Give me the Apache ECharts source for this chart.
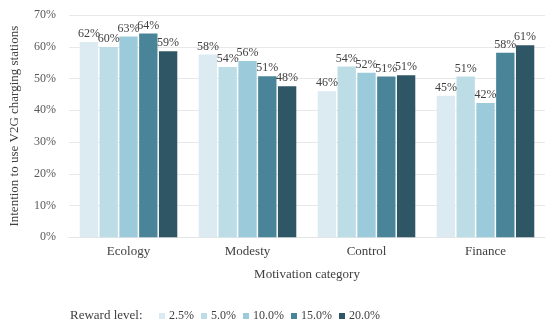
<!DOCTYPE html>
<html>
<head>
<meta charset="utf-8">
<script src="https://cdn.jsdelivr.net/npm/echarts@6/dist/echarts.min.js"></script>
<style>html,body{margin:0;padding:0;background:#fff}#c{width:550px;height:328px}</style>
</head>
<body>
<div id="c"></div>
<script>
var categories = ['Ecology', 'Modesty', 'Control', 'Finance'];
var rewardLevels = ['2.5%', '5.0%', '10.0%', '15.0%', '20.0%'];
var s2_5 = [61.5, 57.6, 46.0, 44.6];
var s5_0 = [59.9, 53.6, 53.8, 50.6];
var s10_0 = [63.2, 55.5, 51.8, 42.3];
var s15_0 = [64.2, 50.7, 50.6, 58.1];
var s20_0 = [58.6, 47.6, 51.0, 60.5];
var yTicks = [0, 10, 20, 30, 40, 50, 60, 70];
var colors = ['#DCEBF1', '#BDDDE6', '#9BCBDB', '#4A8499', '#2F5664'];
var seriesData = [s2_5, s5_0, s10_0, s15_0, s20_0];
var FONT = 'Liberation Serif';

var chart = echarts.init(document.getElementById('c'), null, {renderer: 'canvas'});
chart.setOption({
  animation: false,
  textStyle: {fontFamily: FONT},
  color: colors,
  grid: {left: 67, right: 5, top: 15, bottom: 90.7, containLabel: false},
  legend: {
    data: rewardLevels,
    left: 159, top: 310, padding: 0,
    itemWidth: 6, itemHeight: 6, itemGap: 7,
    icon: 'rect',
    textStyle: {fontFamily: FONT, fontSize: 12, color: '#404040', padding: [0, 0, 0, -1]}
  },
  graphic: [{
    type: 'text', left: 70, top: 309,
    style: {text: 'Reward level:', font: '13px "Liberation Serif"', fill: '#404040'}
  }],
  xAxis: {
    type: 'category', data: categories,
    name: 'Motivation category', nameLocation: 'middle', nameGap: 31,
    nameTextStyle: {fontFamily: FONT, fontSize: 13, color: '#404040'},
    axisLine: {show: true, lineStyle: {color: '#E4E4E4', width: 1}},
    axisTick: {show: false},
    axisLabel: {fontFamily: FONT, fontSize: 13, color: '#404040', margin: 8}
  },
  yAxis: {
    type: 'value', min: 0, max: 70, interval: 10,
    name: 'Intention to use V2G charging stations', nameLocation: 'middle', nameGap: 48,
    nameTextStyle: {fontFamily: FONT, fontSize: 13, color: '#404040'},
    axisLine: {show: false}, axisTick: {show: false},
    axisLabel: {fontFamily: FONT, fontSize: 12, color: '#595959', margin: 13,
      formatter: function (v) { return yTicks.indexOf(v) >= 0 ? v + '%' : ''; }},
    splitLine: {lineStyle: {color: '#E8E8E8', width: 1}}
  },
  series: seriesData.map(function (d, i) {
    return {
      name: rewardLevels[i], type: 'bar', data: d,
      barGap: '8%', barCategoryGap: '18%',
      itemStyle: {color: colors[i]},
      label: {show: true, position: 'top', distance: 2, fontFamily: FONT, fontSize: 12, color: '#404040',
        formatter: function (p) { return Math.round(p.value) + '%'; }}
    };
  })
});
</script>
</body>
</html>
